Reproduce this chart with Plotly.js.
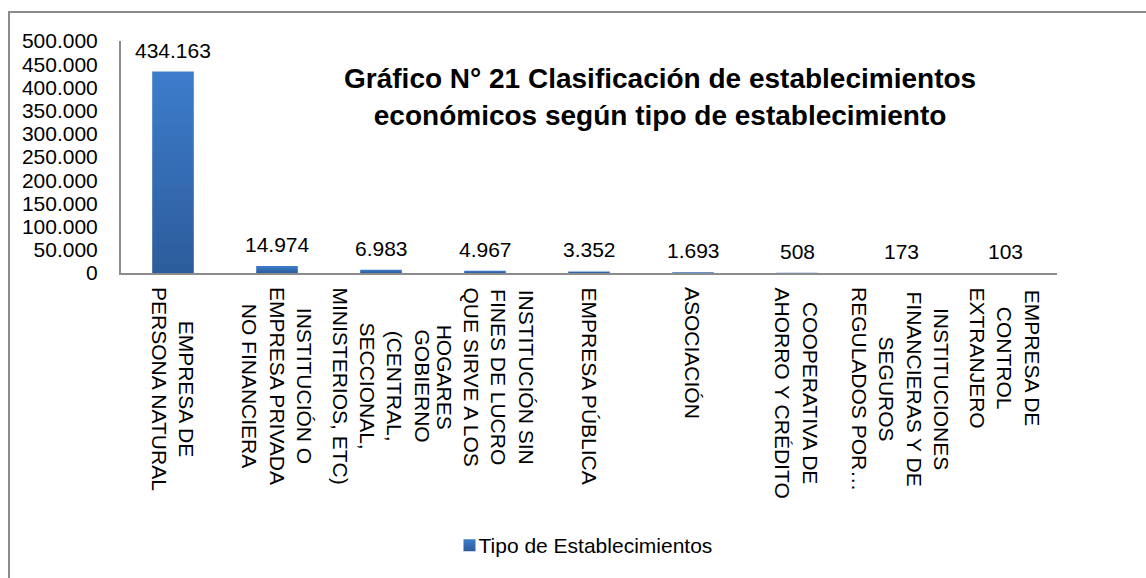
<!DOCTYPE html>
<html>
<head>
<meta charset="utf-8">
<script src="https://cdn.plot.ly/plotly-3.0.1.min.js"></script>
<style>
html,body{margin:0;padding:0;background:#fff;overflow:hidden;}
#wrap{position:relative;width:1146px;height:578px;overflow:hidden;}
#chart{width:1146px;height:578px;}
#frame{position:absolute;left:8px;top:11px;width:1200px;height:700px;border-left:2px solid #8c8c8c;border-top:2px solid #8c8c8c;pointer-events:none;}
</style>
</head>
<body>
<div id="wrap"><div id="chart"></div><div id="frame"></div></div>
<script>
// ---- data ----
const categories = [
  "EMPRESA DE<br>PERSONA NATURAL",
  "INSTITUCIÓN O<br>EMPRESA PRIVADA<br>NO FINANCIERA",
  "GOBIERNO<br>(CENTRAL,<br>SECCIONAL,<br>MINISTERIOS, ETC)",
  "INSTITUCIÓN SIN<br>FINES DE LUCRO<br>QUE SIRVE A LOS<br>HOGARES",
  "EMPRESA PÚBLICA",
  "ASOCIACIÓN",
  "COOPERATIVA DE<br>AHORRO Y CRÉDITO",
  "INSTITUCIONES<br>FINANCIERAS Y DE<br>SEGUROS<br>REGULADOS POR…",
  "EMPRESA DE<br>CONTROL<br>EXTRANJERO"
];
const values = [434163, 14974, 6983, 4967, 3352, 1693, 508, 173, 103];
const seriesName = "Tipo de Establecimientos";
const chartTitle = "Gráfico N° 21 Clasificación de establecimientos<br>económicos según tipo de establecimiento";

// ---- helpers ----
function fmt(n){ return String(n).replace(/\B(?=(\d{3})+(?!\d))/g, "."); }

const FONT = "Arial, 'Liberation Sans', sans-serif";

const valueLabels = values.map((v, i) => ({
  x: categories[i], y: v, xref: "x", yref: "y",
  text: fmt(v), showarrow: false, yanchor: "bottom", yshift: 8,
  font: {family: FONT, size: 21, color: "#000"}
}));

const catLabels = categories.map((c, i) => ({
  x: c, y: 0, xref: "x", yref: "paper",
  text: c, showarrow: false, textangle: 90, align: "center",
  xanchor: "center", yanchor: "top", yshift: -12,
  font: {family: FONT, size: 21, color: "#000"}
}));

const data = [{
  type: "bar",
  x: categories,
  y: values,
  name: seriesName,
  marker: {color: "#3570bd"},
  showlegend: true
}];

const layout = {
  width: 1146, height: 578,
  margin: {l: 121, r: 89, t: 41, b: 301},
  paper_bgcolor: "#fff", plot_bgcolor: "#fff",
  separators: ",.",
  font: {family: FONT, size: 21, color: "#000"},
  title: {
    text: chartTitle,
    xref: "container", x: 0.576, xanchor: "center",
    yref: "container", y: 0.847, yanchor: "top",
    font: {family: FONT, size: 28, weight: "bold", color: "#000"}
  },
  bargap: 0.6,
  xaxis: {
    type: "category",
    showticklabels: false, ticks: "",
    showline: true, linecolor: "#8c8c8c", linewidth: 2,
    showgrid: false, zeroline: false, fixedrange: true
  },
  yaxis: {
    range: [0, 500000], dtick: 50000, tick0: 0,
    tickformat: ",d",
    ticks: "", ticklabelstandoff: 17,
    showline: true, linecolor: "#8c8c8c", linewidth: 2,
    showgrid: false, zeroline: false, fixedrange: true,
    tickfont: {family: FONT, size: 21, color: "#000"}
  },
  showlegend: true,
  legend: {
    orientation: "h", xref: "paper", x: 0.5, xanchor: "center",
    yref: "paper", y: -1.175, yanchor: "middle",
    font: {family: FONT, size: 21, color: "#000"},
    itemwidth: 30
  },
  annotations: valueLabels.concat(catLabels)
};

Plotly.newPlot("chart", data, layout, {staticPlot: true, displayModeBar: false}).then(gd => {
  const ns = "http://www.w3.org/2000/svg";
  const svg = gd.querySelector("svg.main-svg");
  let defs = svg.querySelector("defs");
  if (!defs) { defs = document.createElementNS(ns, "defs"); svg.insertBefore(defs, svg.firstChild); }
  const grad = document.createElementNS(ns, "linearGradient");
  grad.setAttribute("id", "barGrad");
  grad.setAttribute("x1", "0"); grad.setAttribute("y1", "0");
  grad.setAttribute("x2", "0"); grad.setAttribute("y2", "1");
  [["0", "#3d7dcc"], ["1", "#2c5c9b"]].forEach(([o, c]) => {
    const s = document.createElementNS(ns, "stop");
    s.setAttribute("offset", o); s.setAttribute("stop-color", c);
    grad.appendChild(s);
  });
  defs.appendChild(grad);
  gd.querySelectorAll(".bars .point path, .legendpoints path").forEach(p => {
    p.style.fill = "url(#barGrad)";
  });
  // tighten gap between legend swatch and its text (Excel style)
  gd.querySelectorAll(".legend .legendtext").forEach(t => {
    const x = parseFloat(t.getAttribute("x")) || 40;
    t.setAttribute("x", x - 11);
  });
});
</script>
</body>
</html>
